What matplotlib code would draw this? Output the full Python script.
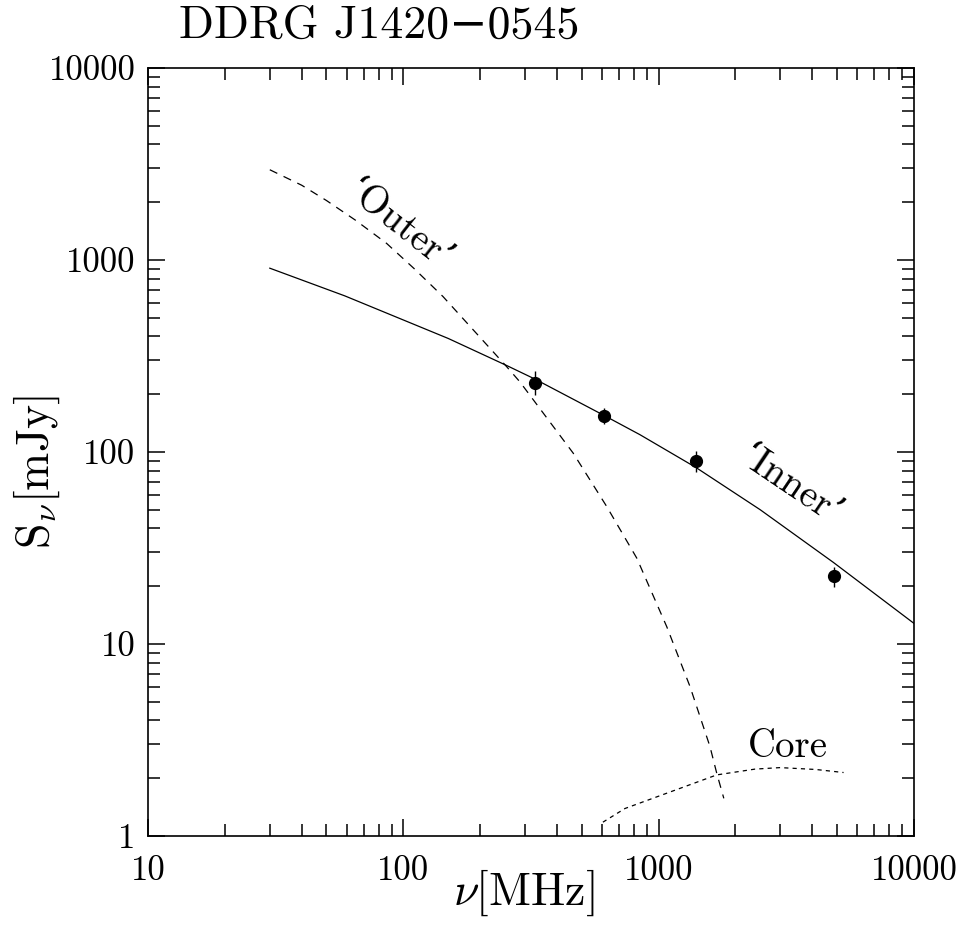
import matplotlib
matplotlib.use('Agg')
import matplotlib.pyplot as plt
from matplotlib.ticker import FuncFormatter, LogLocator

plt.rcParams['font.family'] = ['cmr10', 'DejaVu Serif']
plt.rcParams['mathtext.fontset'] = 'cm'
plt.rcParams['axes.formatter.use_mathtext'] = True
plt.rcParams['lines.scale_dashes'] = False

# measured flux densities of the source
freq_obs = [327, 611, 1400, 4860]
flux_obs = [230, 154, 90, 22.6]
flux_err = [33, 15, 11, 2.7]

# inner-lobe spectrum
freq_inner = [30, 59, 150, 254, 327, 611, 845, 1400, 2500, 4833, 10000]
flux_inner = [906, 650, 390, 282, 240, 155, 123, 83, 50, 26.6, 12.8]

# outer-lobe spectrum
freq_outer = [30, 40, 50, 65, 86, 110, 143, 254, 286, 463, 626, 821, 1076,
              1327, 1589, 1689, 1800]
flux_outer = [2950, 2450, 2040, 1610, 1220, 904, 645, 278, 232, 98.5, 52, 28,
              12.3, 6.0, 2.92, 2.12, 1.57]

# core spectrum
freq_core = [605, 738, 1076, 1689, 2387, 2990, 4121, 5300]
flux_core = [1.18, 1.39, 1.67, 2.08, 2.23, 2.27, 2.22, 2.14]

fig = plt.figure(figsize=(9.64, 9.27), dpi=100)
ax = fig.add_axes([0.1535, 0.0982, 0.7946, 0.8285])

ax.plot(freq_inner, flux_inner, color='black', lw=0.9)
ax.plot(freq_outer, flux_outer, color='black', lw=0.9, dashes=(6, 5))
ax.plot(freq_core, flux_core, color='black', lw=0.9, dashes=(3, 3))
ax.errorbar(freq_obs, flux_obs, yerr=flux_err, fmt='o', color='black',
            ms=8.5, elinewidth=1, capsize=0)

ax.set_xscale('log')
ax.set_yscale('log')
ax.set_xlim(10, 10000)
ax.set_ylim(1, 10000)

fmt = FuncFormatter(lambda v, _: '%d' % v)
for axis in (ax.xaxis, ax.yaxis):
    axis.set_major_locator(LogLocator(base=10))
    axis.set_minor_locator(LogLocator(base=10, subs=range(2, 10)))
    axis.set_major_formatter(fmt)
ax.tick_params(which='both', direction='in', top=True, right=True,
               labelsize=25, width=1.1)
ax.tick_params(axis='x', which='major', pad=14)
ax.tick_params(axis='y', which='major', pad=9)
ax.tick_params(which='major', length=12.5)
ax.tick_params(which='minor', length=8.5)
for sp in ax.spines.values():
    sp.set_linewidth(1.2)

ax.set_xlabel(r'$\nu$[MHz]', fontsize=33)
ax.xaxis.set_label_coords(0.491, -0.074)
ax.xaxis.label.set_va('center')
ax.set_ylabel(r'S$_\nu$[mJy]', fontsize=33)
ax.yaxis.set_label_coords(-0.145, 0.474)
ax.yaxis.label.set_va('center')

ax.text(0.04, 1.027, 'DDRG J1420\u22120545', transform=ax.transAxes,
        fontsize=33, ha='left', va='bottom')

ax.text(95, 1500, '\u2018Outer\u2019', fontsize=28, rotation=-38,
        ha='center', va='center')
ax.text(3270, 65.8, '\u2018Inner\u2019', fontsize=28, rotation=-34,
        ha='center', va='center')
ax.text(3200, 2.9, 'Core', fontsize=28, ha='center', va='center')

fig.savefig('out.png', dpi=100)
